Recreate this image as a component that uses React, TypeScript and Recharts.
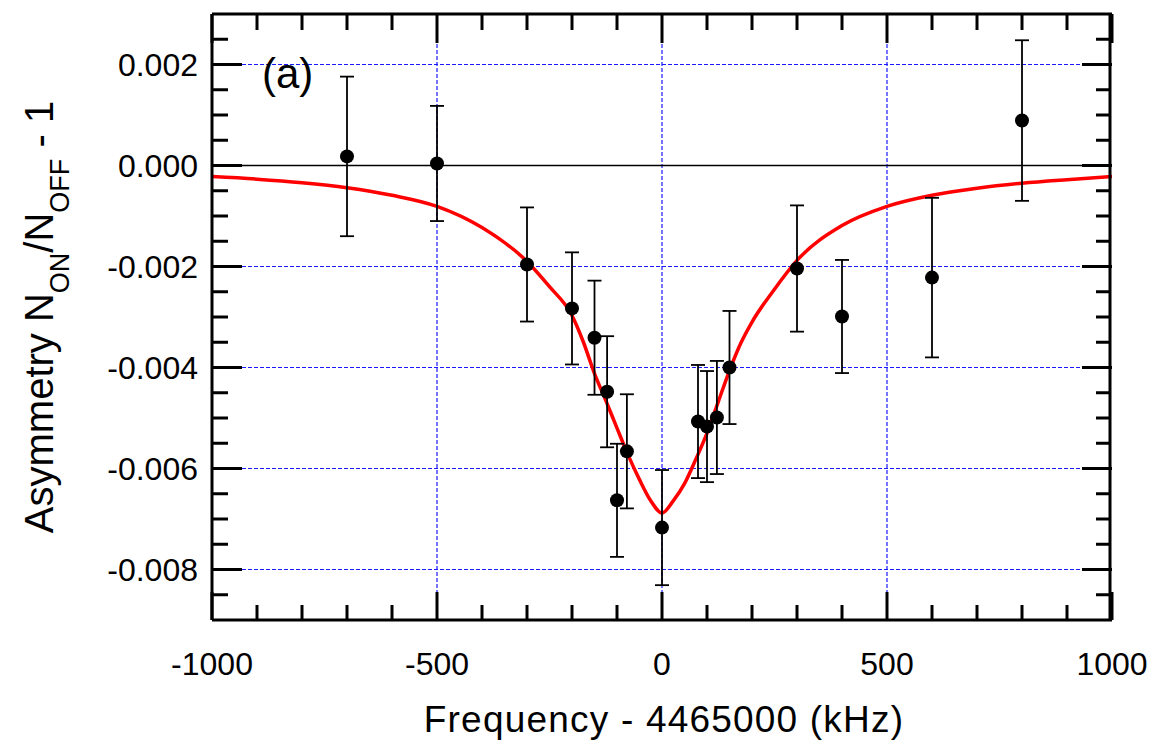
import {
  CartesianGrid,
  ComposedChart,
  ErrorBar,
  Line,
  ReferenceLine,
  Scatter,
  XAxis,
  YAxis,
} from "recharts";

// measured points (kHz offset, asymmetry, 1-sigma)
const freq = [-700, -500, -300, -200, -150, -122, -100, -78, 0, 80, 100, 122, 150, 300, 400, 600, 800];
const asym = [
  0.00018, 0.00004, -0.00196, -0.00283, -0.00341, -0.00448, -0.00663, -0.00566, -0.00717,
  -0.00507, -0.00517, -0.00499, -0.004, -0.00204, -0.00299, -0.00222, 0.00089,
];
const asymErr = [
  0.00158, 0.00114, 0.00113, 0.00111, 0.00113, 0.0011, 0.00112, 0.00113, 0.00114,
  0.00112, 0.0011, 0.00112, 0.00112, 0.00125, 0.00112, 0.00158, 0.00159,
];

// fitted curve
const fitFreq = [
  -1000, -900, -800, -700, -600, -500, -400, -300, -250, -200, -175, -150, -125, -100, -75, -50, -25,
  0, 25, 50, 75, 100, 125, 150, 175, 200, 250, 300, 400, 500, 600, 700, 800, 900, 1000,
];
const fitAsym = [
  -0.00022, -0.00027, -0.00034, -0.00044, -0.00059, -0.00081, -0.00123, -0.0019, -0.0024, -0.00297,
  -0.00349, -0.00412, -0.00465, -0.0052, -0.00574, -0.00622, -0.00664, -0.00688, -0.00664, -0.0063,
  -0.00582, -0.0053, -0.00468, -0.00406, -0.00352, -0.0031, -0.00245, -0.00188, -0.00119, -0.00081,
  -0.00059, -0.00045, -0.00035, -0.00028, -0.00022,
];

const xTicks = [
  -1000, -900, -800, -700, -600, -500, -400, -300, -200, -100, 0, 100, 200, 300, 400, 500, 600, 700, 800,
  900, 1000,
];
const xMajorTicks = [-1000, -500, 0, 500, 1000];
const yMajorTicks = [-0.008, -0.006, -0.004, -0.002, 0, 0.002];
const yMinorTicks = [
  -0.0085, -0.0075, -0.007, -0.0065, -0.0055, -0.005, -0.0045, -0.0035, -0.003, -0.0025, -0.0015,
  -0.001, -0.0005, 0.0005, 0.001, 0.0015, 0.0025,
];

const points = freq.map((f, i) => ({ x: f, y: asym[i], err: asymErr[i] }));
const fit = fitFreq.map((f, i) => ({ x: f, y: fitAsym[i] }));

const FONT = '"Liberation Sans", Arial, Helvetica, sans-serif';
const X_DOMAIN: [number, number] = [-1000, 1000];
const Y_DOMAIN: [number, number] = [-0.009, 0.003];
const TICK_LINE = { stroke: "#000", strokeWidth: 3 };
const AXIS_LINE = { stroke: "#000", strokeWidth: 3 };

// layout
const W = 1170;
const H = 742;
const MARGIN_TOP = 13;
const TOP_AXIS_H = 1;
const BOTTOM_AXIS_H = 122;
const PLOT_H = H - MARGIN_TOP - TOP_AXIS_H - BOTTOM_AXIS_H;

const NoLabel = () => <g />;

// x ticks point inward on both the bottom and the top frame; labels under the major ones
function XTick(p: any) {
  const v = p.payload.value;
  const major = xMajorTicks.includes(v);
  const top = p.y - PLOT_H;
  return (
    <g>
      <line x1={p.x} x2={p.x} y1={p.y} y2={p.y - (major ? 28 : 15)} stroke="#000" strokeWidth={3} />
      <line x1={p.x} x2={p.x} y1={top} y2={top + (major ? 29 : 16)} stroke="#000" strokeWidth={3} />
      {major && (
        <text x={p.x} y={p.y + 32} dy="0.71em" textAnchor="middle" fontFamily={FONT} fontSize={32} fill="#000">
          {v}
        </text>
      )}
    </g>
  );
}

function XTitle(props: any) {
  const vb = props.viewBox;
  return (
    <text
      x={vb.x + vb.width / 2 + 2}
      y={732}
      textAnchor="middle"
      fontFamily={FONT}
      fontSize={37}
      letterSpacing={1.2}
      fill="#000"
    >
      Frequency - 4465000 (kHz)
    </text>
  );
}

function YTitle(props: any) {
  const vb = props.viewBox;
  const cx = 53;
  const cy = vb.y + vb.height / 2;
  return (
    <text
      transform={`rotate(-90 ${cx} ${cy})`}
      x={cx}
      y={cy}
      textAnchor="middle"
      fontFamily={FONT}
      fontSize={40}
      fill="#000"
      style={{ whiteSpace: "pre" }}
    >
      Asymmetry N
      <tspan fontSize={27} dy={16}>ON</tspan>
      <tspan dy={-16}>/N</tspan>
      <tspan fontSize={27} dy={16}>OFF</tspan>
      <tspan dy={-16}>{" - 1"}</tspan>
    </text>
  );
}

const Dot = (p: any) => <circle cx={p.cx} cy={p.cy} r={7} fill="#000" />;

// tick-mark-only y axes drawn inward on left and right
function tickY(id: string, side: "left" | "right", ticks: number[], size: number) {
  return (
    <YAxis
      key={id}
      yAxisId={id}
      type="number"
      domain={Y_DOMAIN}
      allowDataOverflow
      ticks={ticks}
      interval={0}
      orientation={side}
      mirror
      width={1}
      tickSize={size}
      tick={NoLabel}
      tickLine={TICK_LINE}
      axisLine={false}
    />
  );
}

export default function App() {
  return (
    <div style={{ position: "absolute", left: 0, top: 0, width: W, height: H, background: "#fff" }}>
      <ComposedChart width={W} height={H} data={fit} margin={{ top: MARGIN_TOP, right: 58, bottom: 0, left: 0 }}>
        <CartesianGrid
          xAxisId="x"
          yAxisId="y"
          stroke="#1a1aff"
          strokeWidth={1.2}
          strokeDasharray="4 2"
          verticalValues={[-500, 0, 500]}
          horizontalValues={[-0.008, -0.006, -0.004, -0.002, 0.002]}
        />
        <XAxis
          xAxisId="x"
          dataKey="x"
          type="number"
          domain={X_DOMAIN}
          allowDataOverflow
          ticks={xTicks}
          interval={0}
          height={BOTTOM_AXIS_H}
          tickSize={0}
          tickMargin={0}
          tickLine={false}
          axisLine={AXIS_LINE}
          tick={XTick}
          label={{ content: XTitle }}
        />
        <XAxis
          xAxisId="xTop"
          dataKey="x"
          type="number"
          domain={X_DOMAIN}
          orientation="top"
          height={TOP_AXIS_H}
          tick={NoLabel}
          tickLine={false}
          axisLine={AXIS_LINE}
        />
        <YAxis
          yAxisId="y"
          dataKey="y"
          type="number"
          domain={Y_DOMAIN}
          allowDataOverflow
          ticks={yMajorTicks}
          interval={0}
          width={212}
          tickSize={0}
          tickMargin={14}
          tickLine={false}
          axisLine={AXIS_LINE}
          tick={{ fontSize: 32, fill: "#000", fontFamily: FONT }}
          tickFormatter={(v: number) => v.toFixed(3)}
          label={{ content: YTitle }}
        />
        <YAxis
          yAxisId="yRight"
          type="number"
          domain={Y_DOMAIN}
          allowDataOverflow
          orientation="right"
          mirror
          width={1}
          tick={NoLabel}
          tickLine={false}
          axisLine={AXIS_LINE}
        />
        {tickY("yMajL", "left", yMajorTicks, 30)}
        {tickY("yMinL", "left", yMinorTicks, 15)}
        {tickY("yMajR", "right", yMajorTicks, 30)}
        {tickY("yMinR", "right", yMinorTicks, 15)}
        <ReferenceLine xAxisId="x" yAxisId="y" y={0} stroke="#000" strokeWidth={1.5} />
        {/* invisible copy of the fit, only so the top frame axis has a series */}
        <Line
          xAxisId="xTop"
          yAxisId="y"
          dataKey="y"
          stroke="none"
          dot={false}
          activeDot={false}
          legendType="none"
          isAnimationActive={false}
        />
        <Line
          xAxisId="x"
          yAxisId="y"
          dataKey="y"
          type="monotone"
          stroke="#ff0000"
          strokeWidth={3.5}
          dot={false}
          activeDot={false}
          isAnimationActive={false}
        />
        <Scatter
          xAxisId="x"
          yAxisId="y"
          data={points}
          dataKey="y"
          fill="#000"
          shape={Dot}
          isAnimationActive={false}
        >
          <ErrorBar dataKey="err" direction="y" width={7} stroke="#000" strokeWidth={1.8} />
        </Scatter>
      </ComposedChart>
      <svg width={W} height={H} style={{ position: "absolute", left: 0, top: 0, pointerEvents: "none" }}>
        <text x={262} y={88} fontFamily={FONT} fontSize={42} fill="#000">
          (a)
        </text>
      </svg>
    </div>
  );
}
